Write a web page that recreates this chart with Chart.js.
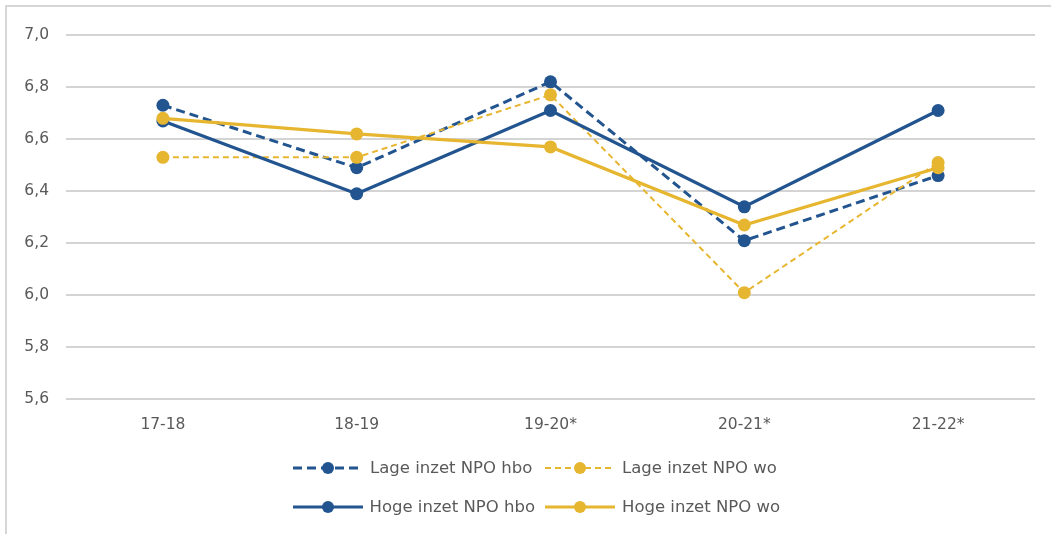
<!DOCTYPE html>
<html>
<head>
<meta charset="utf-8">
<script src="https://cdn.jsdelivr.net/npm/chart.js@4"></script>
<style>
  body { margin: 0; background: #fff; }
  #wrap { position: relative; width: 1051px; height: 534px; overflow: hidden; font-family: "DejaVu Sans", sans-serif; color: #595959; }
  #frame { position: absolute; left: 5px; top: 5px; width: 1060px; height: 540px; border-left: 2px solid #d6d6d6; border-top: 2px solid #d6d6d6; }
  #chartBox { position: absolute; left: 0; top: 0; width: 1051px; height: 450px; }
  #legend { position: absolute; left: 293px; top: 448px; display: grid; grid-template-columns: 242px auto; column-gap: 10px; row-gap: 0; }
  .item { display: flex; align-items: center; height: 39px; font-size: 16.5px; white-space: nowrap; }
  .item svg { margin-right: 7px; }
</style>
</head>
<body>
<div id="wrap">
  <div id="frame"></div>
  <div id="chartBox"><canvas id="chart"></canvas></div>
  <div id="legend"></div>
</div>
<script>
// Data
const categories = ["17-18", "18-19", "19-20*", "20-21*", "21-22*"];
const lageHbo = [6.73, 6.49, 6.82, 6.21, 6.46];
const lageWo  = [6.53, 6.53, 6.77, 6.01, 6.51];
const hogeHbo = [6.67, 6.39, 6.71, 6.34, 6.71];
const hogeWo  = [6.68, 6.62, 6.57, 6.27, 6.49];
const yTickLabels = ["5,6", "5,8", "6,0", "6,2", "6,4", "6,6", "6,8", "7,0"];

const blue = "#22548f";
const yellow = "#e7b630";

function series(label, data, color, width, dash, order) {
  return {
    label, data, order,
    borderColor: color,
    backgroundColor: color,
    borderWidth: width,
    borderDash: dash,
    pointRadius: 6.5,
    pointHoverRadius: 6.5,
    pointBorderWidth: 0,
    pointBackgroundColor: color,
    tension: 0
  };
}

const datasets = [
  series("Lage inzet NPO hbo", lageHbo, blue, 3, [9, 5], 3),
  series("Lage inzet NPO wo", lageWo, yellow, 2, [6, 4], 2),
  series("Hoge inzet NPO hbo", hogeHbo, blue, 3.2, [], 1),
  series("Hoge inzet NPO wo", hogeWo, yellow, 3.2, [], 0)
];

const ctx = document.getElementById("chart").getContext("2d");
const chart = new Chart(ctx, {
  type: "line",
  data: { labels: categories, datasets },
  options: {
    responsive: true,
    maintainAspectRatio: false,
    animation: false,
    layout: { padding: { top: 35, right: 16, bottom: 0, left: 0 } },
    plugins: { legend: { display: false }, tooltip: { enabled: false } },
    scales: {
      x: {
        offset: true,
        grid: { display: false, drawTicks: false },
        border: { display: false },
        ticks: { color: "#595959", font: { family: "DejaVu Sans", size: 15.5 }, padding: 16 }
      },
      y: {
        min: 5.6, max: 7.0,
        afterFit: s => { s.width = 66; },
        grid: { color: "#d4d4d4", lineWidth: 2, drawTicks: false },
        border: { display: false },
        ticks: {
          stepSize: 0.2,
          padding: 17,
          color: "#595959",
          font: { family: "DejaVu Sans", size: 15.5 },
          callback: (v, i) => yTickLabels[i]
        }
      }
    }
  }
});

// Legend (two columns like the original)
const legend = document.getElementById("legend");
datasets.forEach(ds => {
  const item = document.createElement("div");
  item.className = "item";
  const dash = ds.borderDash.length ? `stroke-dasharray="${ds.borderDash.join(",")}"` : "";
  item.innerHTML =
    `<svg width="70" height="14"><line x1="0" y1="7" x2="70" y2="7" stroke="${ds.borderColor}" stroke-width="${ds.borderWidth}" ${dash}/>` +
    `<circle cx="35" cy="7" r="6" fill="${ds.borderColor}"/></svg><span>${ds.label}</span>`;
  legend.appendChild(item);
});
</script>
</body>
</html>
